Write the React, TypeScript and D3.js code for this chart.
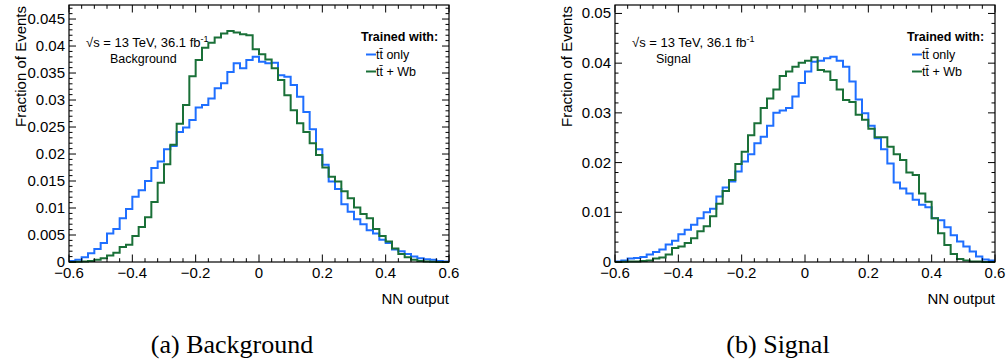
import React from "react";
import * as d3 from "d3";

// NN output bin edges: 60 bins from -0.6 to 0.6
const binLow = -0.6;
const binWidth = 0.02;
const xTicks = [-0.6, -0.4, -0.2, 0, 0.2, 0.4, 0.6];

// (a) Background
const bgTtOnly = [
  0.0002, 0.0004, 0.0009, 0.0016, 0.0024, 0.0035, 0.0053, 0.0061, 0.0081, 0.0098,
  0.0121, 0.0133, 0.015, 0.0174, 0.0186, 0.0209, 0.0215, 0.0241, 0.0249, 0.0263,
  0.0286, 0.0291, 0.0303, 0.0322, 0.0331, 0.0352, 0.0368, 0.0359, 0.0374, 0.038,
  0.0371, 0.0368, 0.0369, 0.0346, 0.0343, 0.0328, 0.0306, 0.0278, 0.0246, 0.0209,
  0.018, 0.0149, 0.0135, 0.0107, 0.0093, 0.0079, 0.007, 0.0059, 0.0053, 0.0041,
  0.0035, 0.0023, 0.002, 0.0015, 0.001, 0.0007, 0.0005, 0.0004, 0.0002, 0.0001,
];
const bgTtWb = [
  0.0, 0.00003, 0.0001, 0.0002, 0.0004, 0.0007, 0.0012, 0.0017, 0.0028, 0.0032,
  0.0048, 0.0065, 0.0083, 0.0111, 0.0147, 0.0181, 0.0217, 0.0256, 0.0291, 0.0344,
  0.0374, 0.0397, 0.0406, 0.0416, 0.0423, 0.0428, 0.0425, 0.0422, 0.042, 0.0394,
  0.0385, 0.0375, 0.0359, 0.0337, 0.0309, 0.0281, 0.0257, 0.0241, 0.022, 0.0198,
  0.0175, 0.0158, 0.0149, 0.0131, 0.0118, 0.0101, 0.0089, 0.0081, 0.0061, 0.0048,
  0.0038, 0.0025, 0.0015, 0.0009, 0.0004, 0.0002, 0.0001, 0.00005, 0.0, 0.0,
];
const bgYTicks = [0, 0.005, 0.01, 0.015, 0.02, 0.025, 0.03, 0.035, 0.04, 0.045];
const bgYTickLabels = ["0", "0.005", "0.01", "0.015", "0.02", "0.025", "0.03", "0.035", "0.04", "0.045"];

// (b) Signal
const sigTtOnly = [
  0.0001, 0.0003, 0.0007, 0.0008, 0.001, 0.0015, 0.002, 0.0025, 0.0035, 0.0043,
  0.0056, 0.0065, 0.0075, 0.0088, 0.01, 0.0107, 0.0132, 0.015, 0.0162, 0.0182,
  0.0202, 0.0217, 0.0239, 0.0252, 0.0274, 0.03, 0.0305, 0.031, 0.0333, 0.036,
  0.0383, 0.0403, 0.0405, 0.041, 0.0413, 0.0405, 0.0393, 0.0363, 0.0327, 0.0299,
  0.0274, 0.0249, 0.0227, 0.0198, 0.016, 0.0148, 0.0138, 0.0125, 0.0115, 0.011,
  0.0088, 0.0084, 0.007, 0.0054, 0.0041, 0.0031, 0.0021, 0.0011, 0.0005, 0.0003,
];
const sigTtWb = [
  0.0, 0.00005, 0.0001, 0.0001, 0.0002, 0.0003, 0.0007, 0.0009, 0.0015, 0.0028,
  0.0031, 0.0038, 0.0048, 0.0062, 0.0072, 0.0092, 0.0117, 0.0143, 0.0165, 0.0197,
  0.0222, 0.0255, 0.0279, 0.031, 0.0329, 0.0347, 0.0374, 0.0383, 0.0393, 0.0401,
  0.0405, 0.0412, 0.0386, 0.0383, 0.0366, 0.0347, 0.0326, 0.0322, 0.0296, 0.0286,
  0.0268, 0.0251, 0.0251, 0.0232, 0.0217, 0.0205, 0.018, 0.0175, 0.0138, 0.0121,
  0.0088, 0.0058, 0.0034, 0.0016, 0.0006, 0.0003, 0.0001, 0.0001, 0.0, 0.0,
];
const sigYTicks = [0, 0.01, 0.02, 0.03, 0.04, 0.05];
const sigYTickLabels = ["0", "0.01", "0.02", "0.03", "0.04", "0.05"];

const legendTitle = "Trained with:";
const seriesNames = ["t\u0074\u0304 only", "t\u0074\u0304 + Wb"];
const lumiText = "= 13 TeV, 36.1 fb";
const BLUE = "#1f6fff";
const GREEN = "#1a7038";
const FONT = "'Liberation Sans', Arial, Helvetica, sans-serif";

type PanelProps = {
  x0: number;
  yMax: number;
  yTicks: number[];
  yTickLabels: string[];
  yMinorStep: number;
  blue: number[];
  green: number[];
  label: string;
  caption: string;
};

function Panel({ x0, yMax, yTicks, yTickLabels, yMinorStep, blue, green, label, caption }: PanelProps) {
  const W = 380;
  const top = 5;
  const bottom = 262;
  const x = d3.scaleLinear().domain([-0.6, 0.6]).range([x0, x0 + W]);
  const y = d3.scaleLinear().domain([0, yMax]).range([bottom, top]);

  const stepPath = (vals: number[]) => {
    const pts: [number, number][] = vals.map((v, i) => [binLow + i * binWidth, v]);
    pts.push([binLow + vals.length * binWidth, vals[vals.length - 1]]);
    const line = d3
      .line<[number, number]>()
      .x((d) => x(d[0]))
      .y((d) => y(d[1]))
      .curve(d3.curveStepAfter);
    return line(pts) || "";
  };

  const xMinor = d3.range(-0.6, 0.6001, 0.04);
  const yMinor = d3.range(0, yMax, yMinorStep);

  const ticks: JSX.Element[] = [];
  xMinor.forEach((t, i) => {
    const major = xTicks.some((m) => Math.abs(m - t) < 1e-6);
    const len = major ? 7.5 : 3.8;
    const px = x(t);
    ticks.push(<line key={"xb" + i} x1={px} x2={px} y1={bottom} y2={bottom - len} />);
    ticks.push(<line key={"xt" + i} x1={px} x2={px} y1={top} y2={top + len} />);
  });
  yMinor.forEach((t, i) => {
    const major = yTicks.some((m) => Math.abs(m - t) < 1e-7);
    const len = major ? 7 : 3.5;
    const py = y(t);
    ticks.push(<line key={"yl" + i} x1={x0} x2={x0 + len} y1={py} y2={py} />);
    ticks.push(<line key={"yr" + i} x1={x0 + W} x2={x0 + W - len} y1={py} y2={py} />);
  });

  const legX = x0 + 297;
  return (
    <g fontFamily={FONT}>
      <rect x={x0} y={top} width={W} height={bottom - top} fill="white" />
      <path d={stepPath(blue)} fill="none" stroke={BLUE} strokeWidth={2} />
      <path d={stepPath(green)} fill="none" stroke={GREEN} strokeWidth={2} />
      <g stroke="black" strokeWidth={1}>{ticks}</g>
      <rect x={x0} y={top} width={W} height={bottom - top} fill="none" stroke="black" strokeWidth={1.2} />
      {yTicks.map((t, i) => (
        <text key={"yl" + i} x={x0 - 4} y={y(t) + 5} textAnchor="end" fontSize={15}>
          {yTickLabels[i]}
        </text>
      ))}
      {xTicks.map((t, i) => (
        <text key={"xl" + i} x={x(t)} y={278} textAnchor="middle" fontSize={15}>
          {t < 0 ? "\u2212" + Math.abs(t).toFixed(1) : t === 0 ? "0" : t.toFixed(1)}
        </text>
      ))}
      <text x={x0 + W} y={304} textAnchor="end" fontSize={15}>
        NN output
      </text>
      <text transform={`translate(${x0 - 43},6) rotate(-90)`} textAnchor="end" fontSize={15}>
        Fraction of Events
      </text>
      <text x={x0 + 17} y={47} fontSize={13}>
        <tspan>{"\u221A"}</tspan>
        <tspan>s </tspan>
        <tspan>{lumiText}</tspan>
        <tspan dy={-5.5} fontSize={9}>-1</tspan>
      </text>
      <text x={x0 + 41} y={62.5} fontSize={12.5}>
        {label}
      </text>
      <text x={legX - 5} y={41} fontSize={12.5} fontWeight="bold">
        {legendTitle}
      </text>
      <line x1={legX} x2={legX + 10} y1={54.5} y2={54.5} stroke={BLUE} strokeWidth={2} />
      <text x={legX + 10} y={58.5} fontSize={12.5}>
        {seriesNames[0]}
      </text>
      <line x1={legX} x2={legX + 10} y1={71.5} y2={71.5} stroke={GREEN} strokeWidth={2} />
      <text x={legX + 10} y={75.5} fontSize={12.5}>
        {seriesNames[1]}
      </text>
      <text
        x={x0 + W / 2 - 27}
        y={353}
        textAnchor="middle"
        fontSize={26}
        fontFamily="'Liberation Serif', 'Times New Roman', serif"
      >
        {caption}
      </text>
    </g>
  );
}

export default function App() {
  return (
    <svg width={1008} height={363} style={{ display: "block", position: "absolute", left: 0, top: 0 }}>
      <rect width={1008} height={363} fill="white" />
      <Panel
        x0={69}
        yMax={0.0476}
        yTicks={bgYTicks}
        yTickLabels={bgYTickLabels}
        yMinorStep={0.001}
        blue={bgTtOnly}
        green={bgTtWb}
        label="Background"
        caption="(a) Background"
      />
      <Panel
        x0={615}
        yMax={0.0517}
        yTicks={sigYTicks}
        yTickLabels={sigYTickLabels}
        yMinorStep={0.002}
        blue={sigTtOnly}
        green={sigTtWb}
        label="Signal"
        caption="(b) Signal"
      />
    </svg>
  );
}
